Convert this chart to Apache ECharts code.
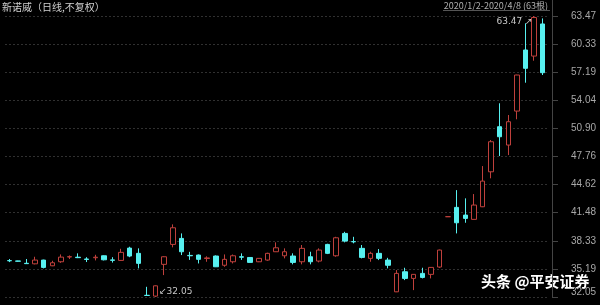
<!DOCTYPE html>
<html>
<head>
<meta charset="utf-8">
<script src="https://cdn.jsdelivr.net/npm/echarts@6/dist/echarts.min.js"></script>
<style>
html,body{margin:0;padding:0;background:#000;}
#chart{width:600px;height:305px;}
</style>
</head>
<body>
<div id="chart"></div>
<script>
const dates = [
  '2020/1/2','2020/1/3','2020/1/6','2020/1/7','2020/1/8','2020/1/9','2020/1/10','2020/1/13','2020/1/14','2020/1/15',
  '2020/1/16','2020/1/17','2020/1/20','2020/1/21','2020/1/22','2020/1/23','2020/2/3','2020/2/4','2020/2/5','2020/2/6',
  '2020/2/7','2020/2/10','2020/2/11','2020/2/12','2020/2/13','2020/2/14','2020/2/17','2020/2/18','2020/2/19','2020/2/20',
  '2020/2/21','2020/2/24','2020/2/25','2020/2/26','2020/2/27','2020/2/28','2020/3/2','2020/3/3','2020/3/4','2020/3/5',
  '2020/3/6','2020/3/9','2020/3/10','2020/3/11','2020/3/12','2020/3/13','2020/3/16','2020/3/17','2020/3/18','2020/3/19',
  '2020/3/20','2020/3/23','2020/3/24','2020/3/25','2020/3/26','2020/3/27','2020/3/30','2020/3/31','2020/4/1','2020/4/2',
  '2020/4/3','2020/4/7','2020/4/8'
];
const opens = [
  36.12,36.08,35.82,35.76,36.18,35.54,35.99,36.52,36.50,36.30,
  36.44,36.66,36.20,36.14,37.52,36.93,32.24,32.15,35.70,37.93,
  38.60,36.70,36.74,36.35,36.63,35.60,35.99,36.55,36.47,35.99,
  36.18,37.11,36.66,36.63,35.99,36.55,36.07,37.93,36.66,39.16,
  38.25,37.49,36.37,36.93,36.18,32.63,34.87,34.13,34.69,34.58,
  35.40,41.03,42.07,41.21,40.73,42.14,46.05,51.09,49.04,52.84,
  59.67,58.99,62.58
];
const closes = [
  36.10,36.05,35.78,36.18,35.36,35.88,36.51,36.56,36.45,36.25,
  36.50,36.21,36.15,37.04,36.63,35.81,32.22,33.30,36.55,39.79,
  37.11,36.66,36.26,36.42,35.43,36.26,36.66,36.50,35.92,36.37,
  36.93,37.55,37.11,35.92,37.49,35.99,37.30,36.93,38.67,38.30,
  38.22,36.48,36.93,36.37,35.60,34.69,34.13,34.58,34.24,35.36,
  37.30,41.03,40.35,40.84,42.33,45.01,49.41,49.97,51.65,56.87,
  57.62,63.30,57.13
];
const lows = [
  35.95,36.00,35.76,35.70,35.25,35.50,35.87,36.30,36.40,35.96,
  36.14,36.14,35.90,36.10,36.50,35.25,32.22,32.05,34.50,37.60,
  36.74,36.20,35.80,35.99,35.40,35.43,35.80,36.20,35.90,35.95,
  36.10,37.10,36.37,35.70,35.70,35.70,35.92,36.85,36.55,38.16,
  38.05,36.37,35.99,36.18,35.25,32.60,33.94,32.82,34.13,34.13,
  35.30,41.03,39.16,40.35,40.70,42.10,45.32,47.81,47.92,51.92,
  56.01,58.47,56.87
];
const highs = [
  36.30,36.10,36.30,36.55,36.22,36.10,36.81,36.70,36.93,36.50,
  36.77,36.70,36.50,37.44,37.67,37.49,33.19,33.35,36.60,40.17,
  39.16,37.10,36.80,36.60,36.70,36.81,36.80,36.93,36.50,36.40,
  37.00,38.16,37.49,36.93,37.86,37.11,37.49,38.00,38.78,39.34,
  38.78,37.86,37.11,37.41,36.43,35.06,35.32,34.60,35.32,35.40,
  37.35,41.03,44.00,43.08,43.56,46.69,49.60,53.71,52.40,56.90,
  62.65,63.47,63.20
];
const yTicks = [32.05,35.19,38.33,41.48,44.62,47.76,50.90,54.04,57.19,60.33,63.47];
const titleText = '新诺威（日线,不复权）';
const rangeText = '2020/1/2-2020/4/8 (63根)';
const watermark = '头条 @平安证券';

const UP = '#bf403c';
const DOWN = '#57f0f0';
const GRIDC = '#303030';

const kdata = opens.map((o, i) => [o, closes[i], lows[i], highs[i]]);

const chart = echarts.init(document.getElementById('chart'), null, {renderer: 'canvas'});
chart.setOption({
  backgroundColor: '#000',
  animation: false,
  grid: {left: 5, right: 53, top: 16, bottom: 8},
  xAxis: {
    type: 'category',
    data: dates,
    boundaryGap: true,
    axisLine: {show: false},
    axisTick: {show: false},
    axisLabel: {show: false},
    splitLine: {show: false}
  },
  yAxis: {
    type: 'value',
    position: 'right',
    offset: 5,
    min: 32.05,
    max: 63.47,
    axisLine: {show: true, lineStyle: {color: '#444', width: 1}},
    axisTick: {show: true, inside: false, length: 6, customValues: yTicks, lineStyle: {color: '#444'}},
    axisLabel: {
      customValues: yTicks,
      formatter: v => (Math.abs(v - yTicks[0]) < 1e-6 ? '{b|' + Number(v).toFixed(2) + '}' : Number(v).toFixed(2)),
      align: 'right',
      margin: 44,
      color: '#a8a8a8',
      fontSize: 10,
      fontFamily: 'Liberation Sans',
      rich: {
        b: {color: '#a8a8a8', fontSize: 10, fontFamily: 'Liberation Sans', padding: [0, 0, 10, 0]}
      }
    },
    splitLine: {show: true, lineStyle: {color: GRIDC, type: [2, 2], width: 1}}
  },
  series: [{
    type: 'candlestick',
    data: kdata,
    barWidth: 5,
    itemStyle: {
      color: '#000',
      color0: DOWN,
      borderColor: UP,
      borderColor0: DOWN,
      borderColorDoji: UP,
      borderWidth: 1
    },
    markPoint: {
      symbol: 'circle',
      symbolSize: 1,
      itemStyle: {color: 'rgba(0,0,0,0)'},
      data: [
        {
          type: 'max', valueDim: 'highest',
          label: {
            show: true, position: 'left', distance: 1, offset: [0, 6],
            formatter: p => Number(p.value).toFixed(2) + ' ↗',
            color: '#c8c8c8', fontSize: 9, fontFamily: 'DejaVu Sans'
          }
        },
        {
          type: 'min', valueDim: 'lowest',
          label: {
            show: true, position: 'right', distance: 3, offset: [0, -5],
            formatter: p => '↙' + Number(p.value).toFixed(2),
            color: '#c8c8c8', fontSize: 9, fontFamily: 'DejaVu Sans'
          }
        }
      ]
    }
  }],
  graphic: [
    {
      type: 'text', left: 2, top: 2,
      style: {text: titleText, fill: '#d0d0d0', font: '10px "Noto Sans CJK SC"'}
    },
    {
      type: 'text', right: 52, top: 1,
      style: {text: rangeText, fill: '#b0b0b0', font: '9px "Noto Sans CJK SC"'}
    },
    {
      type: 'line', shape: {x1: 443, y1: 10.5, x2: 550, y2: 10.5},
      style: {stroke: '#555', lineWidth: 1}
    },
    {
      type: 'line', shape: {x1: 552.5, y1: 0, x2: 552.5, y2: 16},
      style: {stroke: '#444', lineWidth: 1}
    },
    {
      type: 'text', left: 481, top: 274,
      style: {
        text: watermark, fill: '#ffffff', font: 'bold 15px "Noto Sans CJK SC"',
        textShadowColor: 'rgba(0,0,0,0.6)', textShadowBlur: 2
      }
    }
  ]
});
</script>
</body>
</html>
